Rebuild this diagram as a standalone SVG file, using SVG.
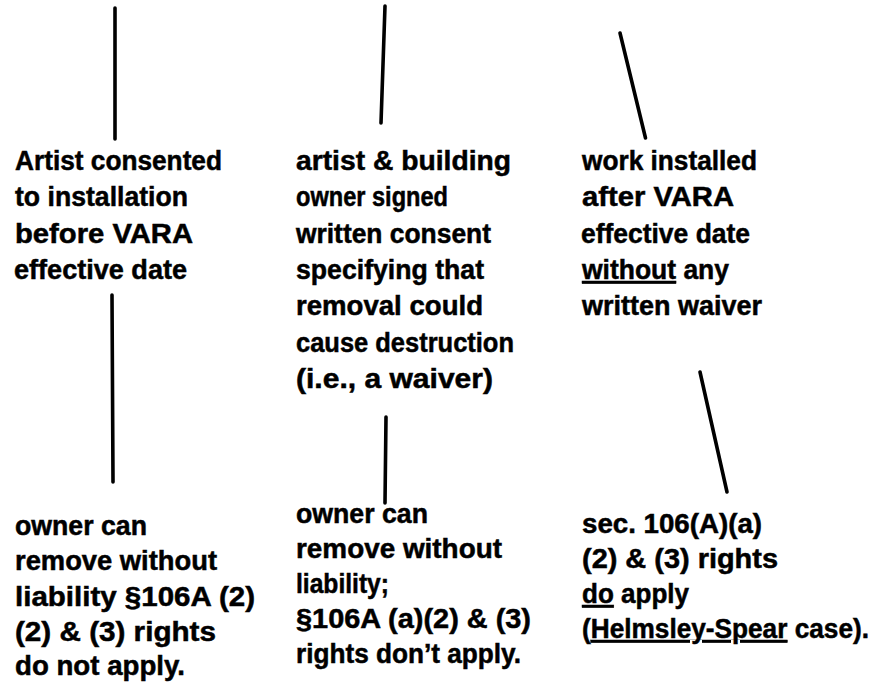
<svg xmlns="http://www.w3.org/2000/svg" width="874" height="688" viewBox="0 0 874 688">
<style>
text{font-family:"Liberation Sans",Arial,sans-serif;font-weight:bold;font-size:27px;fill:#000;stroke:#000;stroke-width:0.5}
.u{text-decoration:underline}
.c line{stroke:#000;stroke-width:3.6;stroke-linecap:round;fill:none}
</style>
<rect width="874" height="688" fill="#fff"/>
<g id="connectors" class="c">
<line x1="115" y1="8" x2="115" y2="139"/>
<line x1="385" y1="6" x2="381" y2="123"/>
<line x1="620" y1="33" x2="645.5" y2="138"/>
<line x1="112" y1="295" x2="113" y2="482"/>
<line x1="386" y1="417" x2="385" y2="503"/>
<line x1="700" y1="372" x2="727" y2="492"/>
</g>
<g id="node-artist-consented">
<text x="15" y="170" textLength="207" lengthAdjust="spacingAndGlyphs">Artist consented</text>
<text x="15" y="206" textLength="173" lengthAdjust="spacingAndGlyphs">to installation</text>
<text x="15" y="242.5" textLength="178" lengthAdjust="spacingAndGlyphs">before VARA</text>
<text x="14" y="279" textLength="173" lengthAdjust="spacingAndGlyphs">effective date</text>
</g>
<g id="node-written-consent">
<text x="296" y="170" textLength="215" lengthAdjust="spacingAndGlyphs">artist &amp; building</text>
<text x="296" y="206" textLength="152" lengthAdjust="spacingAndGlyphs">owner signed</text>
<text x="296" y="242.5" textLength="195" lengthAdjust="spacingAndGlyphs">written consent</text>
<text x="296" y="279" textLength="188" lengthAdjust="spacingAndGlyphs">specifying that</text>
<text x="296" y="315" textLength="187" lengthAdjust="spacingAndGlyphs">removal could</text>
<text x="296" y="351.5" textLength="218" lengthAdjust="spacingAndGlyphs">cause destruction</text>
<text x="296" y="388" textLength="197" lengthAdjust="spacingAndGlyphs">(i.e., a waiver)</text>
</g>
<g id="node-no-waiver">
<text x="582" y="170" textLength="175" lengthAdjust="spacingAndGlyphs">work installed</text>
<text x="582" y="206" textLength="152" lengthAdjust="spacingAndGlyphs">after VARA</text>
<text x="581" y="242.5" textLength="169" lengthAdjust="spacingAndGlyphs">effective date</text>
<text x="582" y="279" textLength="147" lengthAdjust="spacingAndGlyphs"><tspan class="u">without</tspan> any</text>
<text x="582" y="315" textLength="180" lengthAdjust="spacingAndGlyphs">written waiver</text>
</g>
<g id="node-result-1">
<text x="15" y="535" textLength="132" lengthAdjust="spacingAndGlyphs">owner can</text>
<text x="15" y="570" textLength="202" lengthAdjust="spacingAndGlyphs">remove without</text>
<text x="15" y="605.5" textLength="240" lengthAdjust="spacingAndGlyphs">liability §106A (2)</text>
<text x="15" y="640.5" textLength="201" lengthAdjust="spacingAndGlyphs">(2) &amp; (3) rights</text>
<text x="15" y="675" textLength="170" lengthAdjust="spacingAndGlyphs">do not apply.</text>
</g>
<g id="node-result-2">
<text x="296" y="523" textLength="132" lengthAdjust="spacingAndGlyphs">owner can</text>
<text x="296" y="558" textLength="206" lengthAdjust="spacingAndGlyphs">remove without</text>
<text x="296" y="593" textLength="93" lengthAdjust="spacingAndGlyphs">liability;</text>
<text x="296" y="628" textLength="235" lengthAdjust="spacingAndGlyphs">§106A (a)(2) &amp; (3)</text>
<text x="296" y="663" textLength="225" lengthAdjust="spacingAndGlyphs">rights don’t apply.</text>
</g>
<g id="node-result-3">
<text x="582" y="533" textLength="180" lengthAdjust="spacingAndGlyphs">sec. 106(A)(a)</text>
<text x="582" y="568" textLength="196" lengthAdjust="spacingAndGlyphs">(2) &amp; (3) rights</text>
<text x="582" y="603" textLength="107" lengthAdjust="spacingAndGlyphs"><tspan class="u">do</tspan> apply</text>
<text x="582" y="638" textLength="287" lengthAdjust="spacingAndGlyphs">(<tspan class="u">Helmsley-Spear</tspan> case).</text>
</g>
</svg>
